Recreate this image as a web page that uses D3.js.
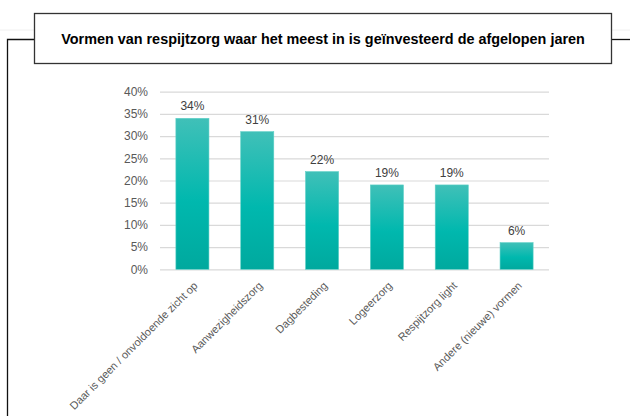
<!DOCTYPE html>
<html>
<head>
<meta charset="utf-8">
<script src="https://cdn.jsdelivr.net/npm/d3@7"></script>
<style>
  body { margin: 0; background: #fff; }
  svg { display: block; font-family: Arial, "Liberation Sans", sans-serif; }
</style>
</head>
<body>
<svg id="chart" width="630" height="416"></svg>
<script>
const categories = [
  "Daar is geen / onvoldoende zicht op",
  "Aanwezigheidszorg",
  "Dagbesteding",
  "Logeerzorg",
  "Respijtzorg light",
  "Andere (nieuwe) vormen"
];
const values = [34, 31, 22, 19, 19, 6];
const yTicks = [0, 5, 10, 15, 20, 25, 30, 35, 40];
const title = "Vormen van respijtzorg waar het meest in is geïnvesteerd de afgelopen jaren";

const svg = d3.select("#chart");
const marge = { top: 91.7, left: 160, right: 81, bottom: 146.7 };
const W = 630, H = 416;
const plotW = W - marge.left - marge.right;

// verloop voor de staven
const grad = svg.append("defs").append("linearGradient")
  .attr("id", "barGrad").attr("x1", 0).attr("y1", 0).attr("x2", 0).attr("y2", 1);
grad.append("stop").attr("offset", "0%").attr("stop-color", "#40c0b8");
grad.append("stop").attr("offset", "55%").attr("stop-color", "#00b8ae");
grad.append("stop").attr("offset", "100%").attr("stop-color", "#00a99e");

// kader rond de grafiek
svg.append("line").attr("x1", 0).attr("x2", W).attr("y1", 30).attr("y2", 30)
  .attr("stroke", "#f0f0f0").attr("stroke-width", 1);
svg.append("path")
  .attr("d", "M7.5,416 V39.5 H40")
  .attr("fill", "none").attr("stroke", "#111").attr("stroke-width", 1.3);
svg.append("path")
  .attr("d", "M600,39.5 H630")
  .attr("fill", "none").attr("stroke", "#111").attr("stroke-width", 1.3);

// titelvak
svg.append("rect")
  .attr("x", 34.5).attr("y", 13.5).attr("width", 577).attr("height", 50)
  .attr("fill", "#fff").attr("stroke", "#333").attr("stroke-width", 1.3);
svg.append("text")
  .attr("x", 323).attr("y", 44)
  .attr("text-anchor", "middle")
  .attr("font-size", 14.4).attr("font-weight", "bold").attr("fill", "#000")
  .text(title);

const x = d3.scaleBand()
  .domain(categories)
  .range([marge.left, marge.left + plotW])
  .paddingInner(0.49)
  .paddingOuter(0.245);

const y = d3.scaleLinear()
  .domain([0, 40])
  .range([H - marge.bottom, marge.top]);

// y-as met rasterlijnen
const yAxis = d3.axisLeft(y)
  .tickValues(yTicks)
  .tickSize(-plotW)
  .tickPadding(12)
  .tickFormat(d => d + "%");
const gy = svg.append("g")
  .attr("transform", `translate(${marge.left},0)`)
  .call(yAxis);
gy.select(".domain").remove();
gy.selectAll(".tick line").attr("stroke", "#d9d9d9").attr("stroke-width", 1.2);
gy.selectAll(".tick text")
  .attr("font-size", 12).attr("fill", "#595959")
  .attr("font-family", "Arial, 'Liberation Sans', sans-serif");

// staven
svg.append("g").selectAll("rect")
  .data(values)
  .enter()
  .append("rect")
  .attr("x", (d, i) => x(categories[i]))
  .attr("y", d => y(d))
  .attr("width", x.bandwidth())
  .attr("height", d => y(0) - y(d))
  .attr("fill", "url(#barGrad)")
  .attr("stroke", "#5ccfc6").attr("stroke-width", 0.6);

// waardelabels
svg.append("g").selectAll("text")
  .data(values)
  .enter()
  .append("text")
  .attr("x", (d, i) => x(categories[i]) + x.bandwidth() / 2)
  .attr("y", d => y(d) - 8)
  .attr("text-anchor", "middle")
  .attr("font-size", 12).attr("fill", "#404040")
  .text(d => d + "%");

// x-as, gedraaide labels
const xAxis = d3.axisBottom(x).tickSize(0).tickPadding(0);
const gx = svg.append("g")
  .attr("transform", `translate(0,${y(0)})`)
  .call(xAxis);
gx.select(".domain").remove();
gx.selectAll(".tick text")
  .attr("font-size", 11).attr("fill", "#595959")
  .attr("font-family", "Arial, 'Liberation Sans', sans-serif")
  .attr("text-anchor", "end")
  .attr("dy", null)
  .attr("transform", "translate(6,17) rotate(-45)");
</script>
</body>
</html>
